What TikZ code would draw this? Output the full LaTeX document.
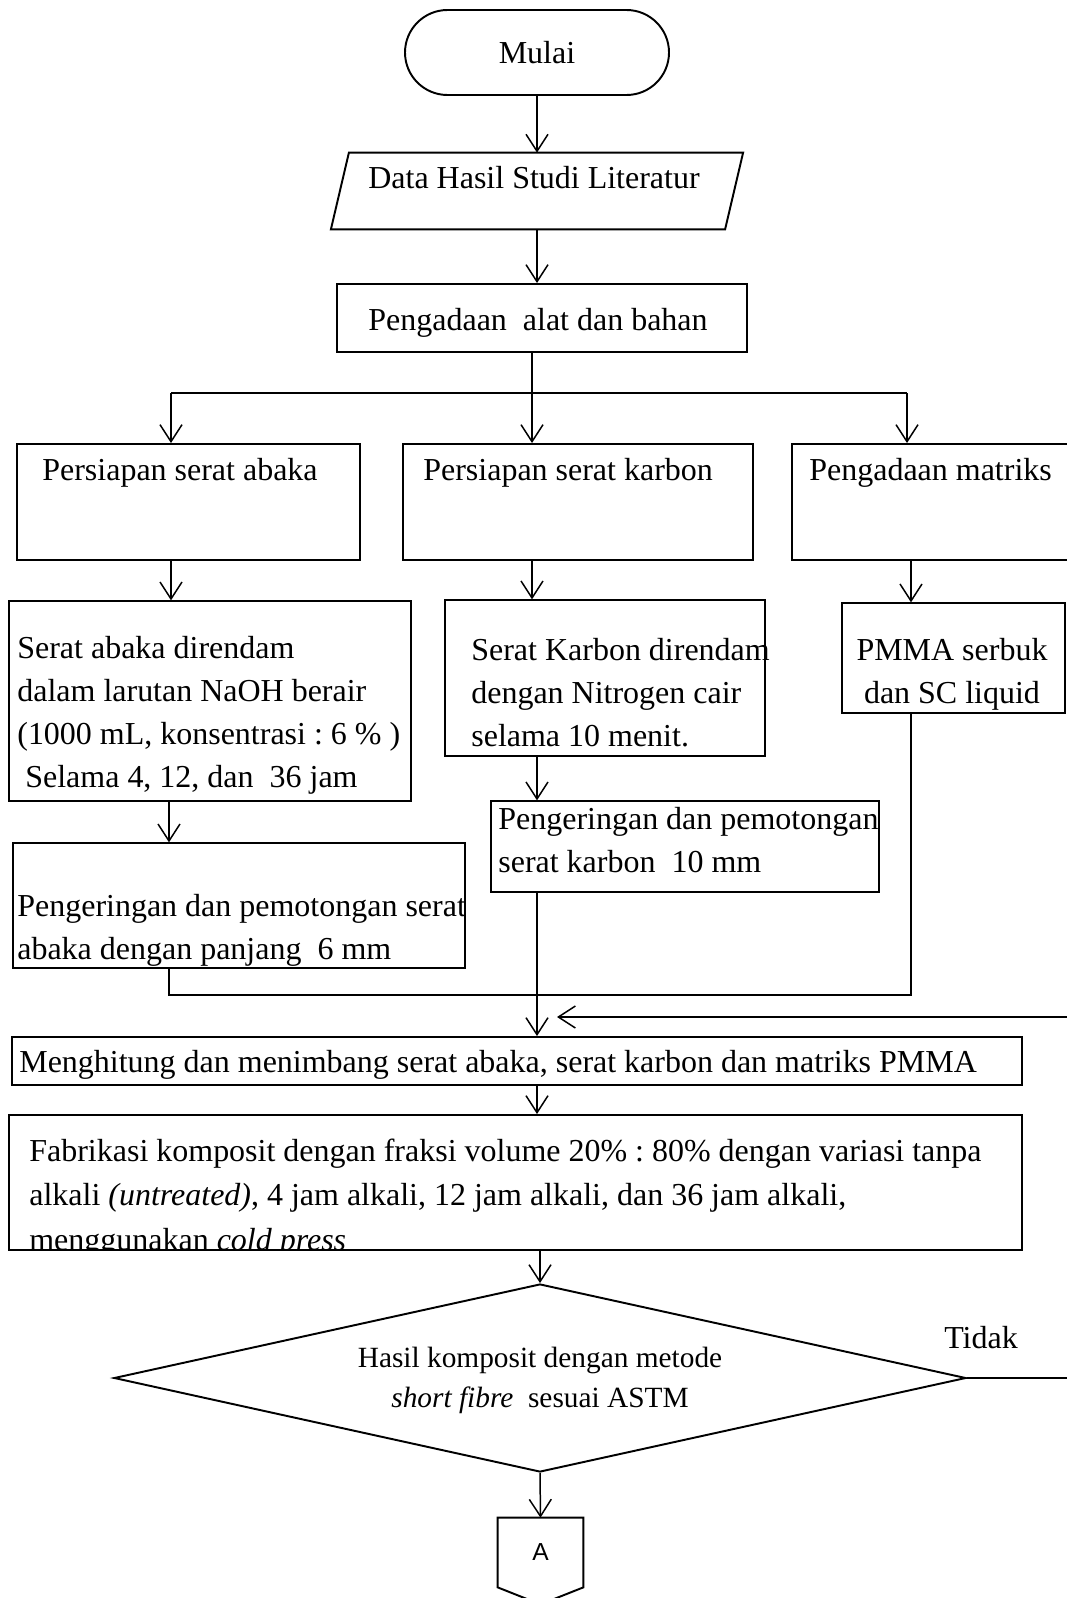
\documentclass[tikz,border=0pt]{standalone}
\usepackage{fontspec}
\setmainfont{Liberation Serif}
\newfontfamily\connfont{Liberation Sans}
\usetikzlibrary{arrows.meta,shapes.geometric}
\frenchspacing

\begin{document}
\begin{tikzpicture}[font=\fontsize{18.2}{24.4}\selectfont]
    % Node styles
    \tikzstyle{none}=[inner sep=0mm]
    \tikzstyle{text left}=[inner sep=0mm, anchor=west, align=left]
    \tikzstyle{thick box}=[draw=black, line width=1.1pt, shape=rectangle]
    \tikzstyle{thin box}=[draw=black, line width=0.75pt, shape=rectangle]
    \tikzstyle{start box}=[draw=black, line width=1.1pt, shape=rectangle, rounded corners=0.85cm, minimum width=5.28cm, minimum height=1.7cm]
    \tikzstyle{decision}=[draw=black, line width=1.1pt, shape=diamond, inner sep=0mm, minimum width=17.04cm, minimum height=3.76cm]
    % Edge styles
    \tikzstyle{arrow}=[line width=0.85pt, -{Straight Barb[length=0.34cm, width=0.44cm]}]
    \tikzstyle{line}=[line width=0.7pt]

    \useasboundingbox (0, 0) rectangle (21.32, -31.96);

    \node [style=start box] (0) at (10.74, -1.05) {Mulai};
    \node [style=none, minimum width=7.87cm, minimum height=1.52cm] (2) at (10.74, -3.82) {};
    \node [style=none] (3) at (10.68, -3.56) {Data Hasil Studi Literatur};
    \node [style=thick box, minimum width=8.2cm, minimum height=1.36cm] (4) at (10.84, -6.36) {};
    \node [style=none] (5) at (10.76, -6.46) {Pengadaan\ \ alat dan bahan};
    \node [style=none] (6) at (10.64, -7.86) {};
    \node [style=none] (7) at (3.42, -7.86) {};
    \node [style=none] (8) at (18.14, -7.86) {};

    \node [style=thick box, minimum width=6.86cm, minimum height=2.32cm] (9) at (3.77, -10.04) {};
    \node [style=thick box, minimum width=7cm, minimum height=2.32cm] (10) at (11.56, -10.04) {};
    \node [style=thick box, minimum width=5.96cm, minimum height=2.32cm] (11) at (18.82, -10.04) {};
    \node [style=text left] (12) at (0.84, -9.46) {Persiapan serat abaka};
    \node [style=text left] (13) at (8.46, -9.46) {Persiapan serat karbon};
    \node [style=text left] (14) at (16.18, -9.46) {Pengadaan matriks};

    \node [style=thin box, minimum width=8.04cm, minimum height=4cm] (15) at (4.20, -14.02) {};
    \node [style=text left] (16) at (0.34, -14.31) {Serat abaka direndam\\dalam larutan NaOH berair\\(1000 mL, konsentrasi : 6 \% )\\\ Selama 4, 12, dan\ \ 36 jam};
    \node [style=thin box, minimum width=6.4cm, minimum height=3.12cm] (17) at (12.10, -13.56) {};
    \node [style=text left] (18) at (9.42, -13.85) {Serat Karbon direndam\\dengan Nitrogen cair\\selama 10 menit.};
    \node [style=thin box, minimum width=4.46cm, minimum height=2.2cm] (19) at (19.07, -13.16) {};
    \node [style=none, align=center] (20) at (19.04, -13.48) {PMMA serbuk\\dan SC liquid};

    \node [style=thin box, minimum width=9.04cm, minimum height=2.5cm] (21) at (4.78, -18.11) {};
    \node [style=text left] (22) at (0.34, -18.60) {Pengeringan dan pemotongan serat\\abaka dengan panjang\ \ 6 mm};
    \node [style=thin box, minimum width=7.76cm, minimum height=1.82cm] (23) at (13.70, -16.93) {};
    \node [style=text left] (24) at (9.96, -16.80) {Pengeringan dan pemotongan\\serat karbon\ \ 10 mm};

    \node [style=none] (25) at (3.38, -19.90) {};
    \node [style=none] (26) at (18.22, -19.90) {};
    \node [style=none] (27) at (11.14, -20.34) {};
    \node [style=none] (28) at (21.7, -20.34) {};
    \node [style=none] (38) at (10.74, -19.90) {};

    \node [style=thick box, minimum width=20.2cm, minimum height=0.96cm] (29) at (10.34, -21.22) {};
    \node [style=text left] (30) at (0.38, -21.30) {Menghitung dan menimbang serat abaka, serat karbon dan matriks PMMA};
    \node [style=thick box, minimum width=20.26cm, minimum height=2.7cm] (31) at (10.31, -23.65) {};
    \begin{scope}
        \clip (31.south west) rectangle (31.north east);
        \node [style=text left, font=\fontsize{18.2}{25.5}\selectfont] (32) at (0.58, -23.96) {Fabrikasi komposit dengan fraksi volume 20\% : 80\% dengan variasi tanpa\\alkali \textit{(untreated)}, 4 jam alkali, 12 jam alkali, dan 36 jam alkali,\\menggunakan \textit{cold press}};
    \end{scope}

    \node [style=decision] (33) at (10.80, -27.56) {};
    \node [style=none, align=center, font=\fontsize{16.7}{22.7}\selectfont] (34) at (10.80, -27.60) {Hasil komposit dengan metode\\\textit{short fibre}\ \ sesuai ASTM};
    \node [style=none] (35) at (19.62, -26.76) {Tidak};
    \node [style=none] (36) at (21.7, -27.56) {};
    \node [style=none, minimum width=1.7cm, minimum height=1.38cm, font=\connfont\fontsize{14}{16}\selectfont] (37) at (10.81, -31.05) {A};

    \draw [line width=1.1pt] ([xshift=0.18cm]2.north west) -- ([xshift=0.18cm]2.north east) -- ([xshift=-0.18cm]2.south east) -- ([xshift=-0.18cm]2.south west) -- cycle;
    \draw [style=arrow] (0.south) to (2.north);
    \draw [style=arrow] (2.south) to (2.south |- 4.north);
    \draw [style=line] (6 |- 4.south) to (6.center);
    \draw [style=line] (7.center) to (8.center);
    \draw [style=arrow] (7.center) to (7 |- 9.north);
    \draw [style=arrow] (6.center) to (6 |- 10.north);
    \draw [style=arrow] (8.center) to (8 |- 11.north);
    \draw [style=arrow] (7 |- 9.south) to (7 |- 15.north);
    \draw [style=arrow] (6 |- 10.south) to (6 |- 17.north);
    \draw [style=arrow] (26 |- 11.south) to (26 |- 19.north);
    \draw [style=arrow] (25 |- 15.south) to (25 |- 21.north);
    \draw [style=arrow] (38 |- 17.south) to (38 |- 23.north);
    \draw [style=line] (25 |- 21.south) -- (25.center) -- (26.center) -- (26 |- 19.south);
    \draw [style=arrow] (38 |- 23.south) to (38 |- 29.north);
    \draw [style=arrow] (28.center) to (27.center);
    \draw [style=arrow] (38 |- 29.south) to (38 |- 31.north);
    \draw [style=arrow] (33.north |- 31.south) to (33.north);
    \draw [style=line] (33.east) -- (36.center) -- (28.center);
    \draw [style=arrow] (33.south) to (37.north);
    \draw [line width=1.1pt] (37.north west) -- (37.north east) -- (37.south east) -- ([yshift=-0.34cm]37.south) -- (37.south west) -- cycle;
\end{tikzpicture}
\end{document}
